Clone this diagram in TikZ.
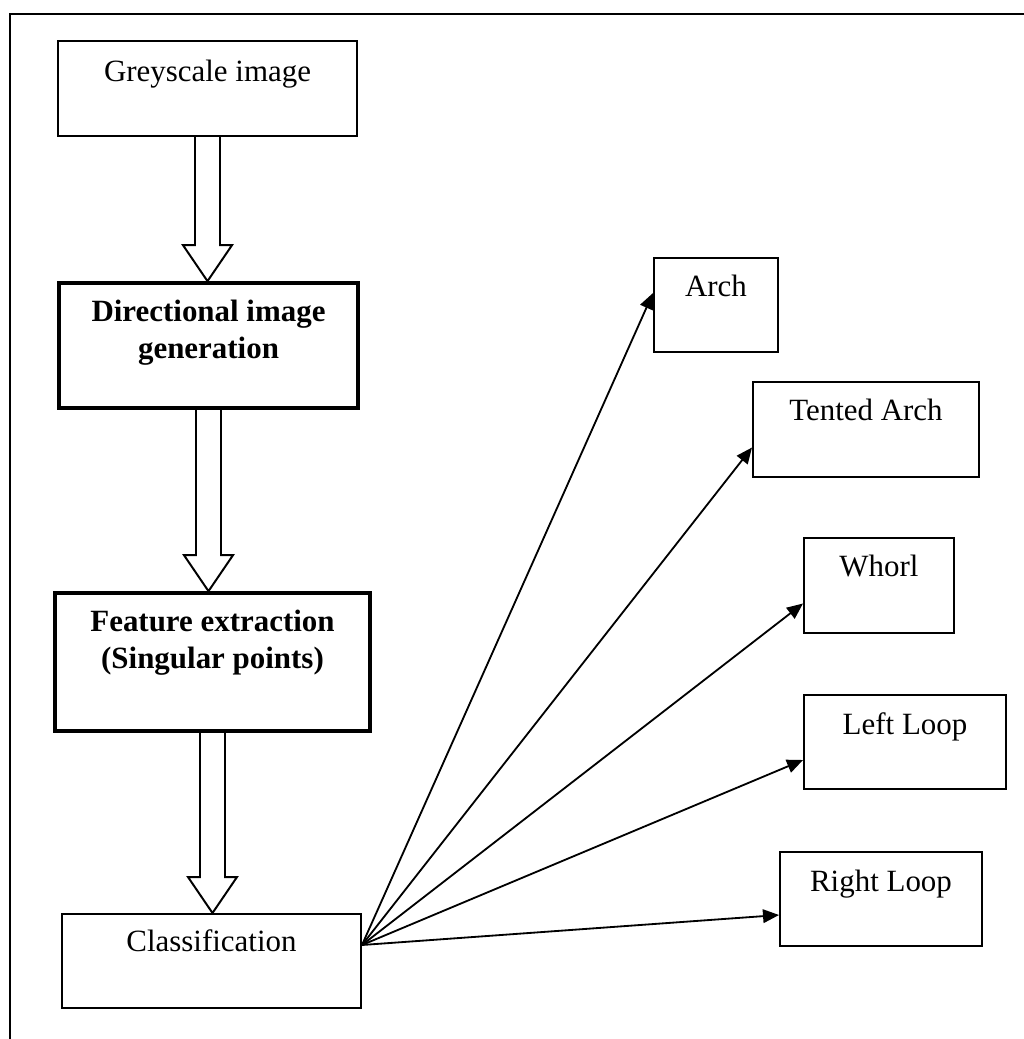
\documentclass[tikz,border=0pt]{standalone}
\usepackage{fontspec}
\setmainfont{Liberation Serif}
\usetikzlibrary{arrows.meta,calc}

% block arrow between two stacked boxes
\newcommand{\hollowarrow}[2]{%
  \coordinate (#1tip) at (#1.south |- #2.north);
  \draw[hollow] ($(#1.south)+(-12.5,0)$) -- ($(#1tip)+(-12.5,-36)$)
    -- ($(#1tip)+(-24.5,-36)$) -- (#1tip) -- ($(#1tip)+(24.5,-36)$)
    -- ($(#1tip)+(12.5,-36)$) -- ($(#1.south)+(12.5,0)$);}

\begin{document}
\begin{tikzpicture}[
		x=0.025cm, y=-0.025cm,
		boxsize/.style 2 args={minimum width=#1*0.025cm, minimum height=#2*0.025cm},
		thinbox/.style={draw, line width=1.4pt, inner sep=0pt},
		thickbox/.style={draw, line width=2.6pt, inner sep=0pt},
		txt/.style={anchor=base, inner sep=0pt, align=center, font=\fontsize{22}{26.2}\selectfont},
		hollow/.style={line width=1.4pt, line join=miter},
		conn/.style={line width=1.3pt, -{Triangle[length=0.4cm, width=0.34cm]}},
		frame/.style={line width=1.6pt}]
	\useasboundingbox (0,0) rectangle (1024,1039);
	%% outer frame
	\draw[frame] (10,1039) -- (10,14) -- (1024,14);
	%% main column
	\node[thinbox, boxsize={299}{95}] (grey) at (207.5,88.5) {};
	\node[thickbox, boxsize={299}{125}] (dir) at (208.5,345.5) {};
	\node[thickbox, boxsize={315}{138}] (feat) at (212.5,662) {};
	\node[thinbox, boxsize={299}{94}] (cls) at (211.5,961) {};
	\node[txt] (greytxt) at ($(grey.north)+(0,41)$) {Greyscale image};
	\node[txt] (dirtxt) at ($(dir.north)+(0,77)$) {\bfseries Directional image\\\bfseries generation};
	\node[txt] (feattxt) at ($(feat.north)+(0,77)$) {\bfseries Feature extraction\\\bfseries (Singular points)};
	\node[txt] (clstxt) at ($(cls.north)+(0,38)$) {Classification};
	\hollowarrow{grey}{dir}
	\hollowarrow{dir}{feat}
	\hollowarrow{feat}{cls}
	%% classes
	\node[thinbox, boxsize={124}{94}] (arch) at (716,305) {};
	\node[thinbox, boxsize={226}{95}] (tented) at (866,429.5) {};
	\node[thinbox, boxsize={150}{95}] (whorl) at (879,585.5) {};
	\node[thinbox, boxsize={202}{94}] (left) at (905,742) {};
	\node[thinbox, boxsize={202}{94}] (right) at (881,899) {};
	\node[txt] (archtxt) at ($(arch.north)+(0,39)$) {Arch};
	\node[txt] (tentedtxt) at ($(tented.north)+(0,39)$) {Tented Arch};
	\node[txt] (whorltxt) at ($(whorl.north)+(0,39)$) {Whorl};
	\node[txt] (lefttxt) at ($(left.north)+(0,40)$) {Left Loop};
	\node[txt] (righttxt) at ($(right.north)+(0,40)$) {Right Loop};
	%% fan of connectors
	\coordinate (hub) at ($(cls.east)+(0,-16)$);
	\foreach \t/\dy in {arch/-12, tented/18, whorl/18, left/18, right/16}
		\draw[conn] (hub) -- ($(\t.west)+(0,\dy)$);
\end{tikzpicture}
\end{document}
